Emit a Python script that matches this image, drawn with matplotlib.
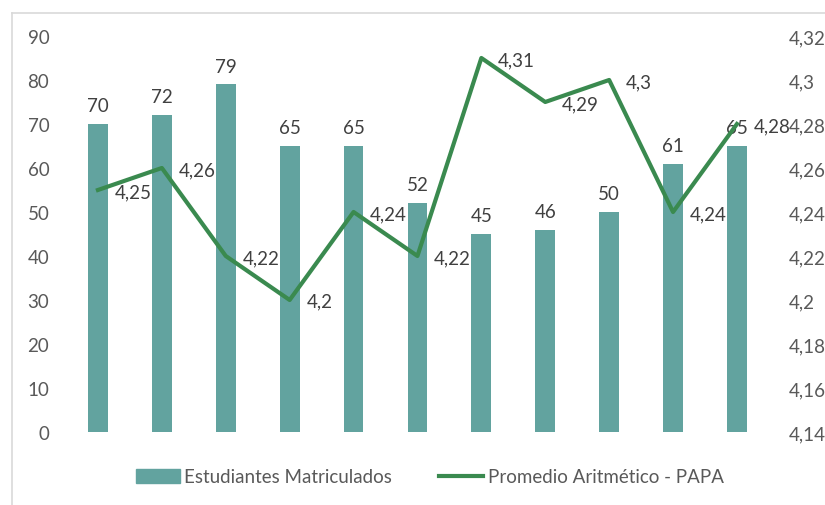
import matplotlib
matplotlib.use("Agg")
import matplotlib.pyplot as plt
from matplotlib.lines import Line2D
import numpy as np

plt.rcParams['font.family'] = ['Lato', 'DejaVu Sans']

# datos por periodo
estudiantes = [70, 72, 79, 65, 65, 52, 45, 46, 50, 61, 65]
papa = [4.25, 4.26, 4.22, 4.20, 4.24, 4.22, 4.31, 4.29, 4.30, 4.24, 4.28]
ticks_izq = [0, 10, 20, 30, 40, 50, 60, 70, 80, 90]
ticks_der = [4.14, 4.16, 4.18, 4.20, 4.22, 4.24, 4.26, 4.28, 4.30, 4.32]

color_barra = '#62a39f'
color_linea = '#3a8a4f'
gris = '#595959'
fs = 13.5

def coma(v):
    s = ('%.2f' % v).rstrip('0').rstrip('.')
    return s.replace('.', ',')

fig = plt.figure(figsize=(8.25, 5.06), dpi=100)
ax = fig.add_axes([0.08, 0.1443, 0.852, 0.7826])
ax2 = ax.twinx()

x = np.arange(len(estudiantes))
barras = ax.bar(x, estudiantes, width=0.31, color=color_barra, zorder=2)
ax.set_xlim(-0.5, len(x) - 0.5)
ax.set_ylim(0, 90)
ax.set_yticks(ticks_izq)
ax.set_yticklabels([str(t) for t in ticks_izq])
ax.set_xticks([])
for b, v in zip(barras, estudiantes):
    ax.annotate(str(v), (b.get_x() + b.get_width() / 2, v), xytext=(0, 7),
                textcoords='offset points', ha='center', va='bottom',
                fontsize=fs, color='#404040')

ax2.plot(x, papa, color=color_linea, lw=3, zorder=3)
ax2.set_ylim(4.14, 4.32)
ax2.set_yticks(ticks_der)
ax2.set_yticklabels([coma(t) for t in ticks_der])
for xi, v in zip(x, papa):
    ax2.annotate(coma(v), (xi, v), xytext=(12, -1), textcoords='offset points',
                 ha='left', va='center', fontsize=fs, color='#404040')

for a in (ax, ax2):
    for s in a.spines.values():
        s.set_visible(False)
    a.tick_params(axis='y', length=0, labelsize=fs, labelcolor=gris)
ax.tick_params(axis='y', pad=12)
ax2.tick_params(axis='y', pad=14)

# marco del gráfico
fig.add_artist(Line2D([11.5 / 825, 11.5 / 825], [0, 1 - 13.5 / 506],
                      color='#d9d9d9', lw=1.2))
fig.add_artist(Line2D([11.5 / 825, 1], [1 - 13.5 / 506, 1 - 13.5 / 506],
                      color='#d9d9d9', lw=1.2))

handles = [plt.Rectangle((0, 0), 1, 1, color=color_barra),
           Line2D([0], [0], color=color_linea, lw=3)]
fig.legend(handles, ['Estudiantes Matriculados', 'Promedio Aritmético - PAPA'],
           loc='center', bbox_to_anchor=(0.521, 1 - 478 / 506), ncol=2,
           frameon=False, fontsize=fs, labelcolor=gris, handlelength=2.35,
           handletextpad=0.25, columnspacing=2.5, handleheight=0.75)

fig.savefig('out.png', dpi=100, facecolor='white')
